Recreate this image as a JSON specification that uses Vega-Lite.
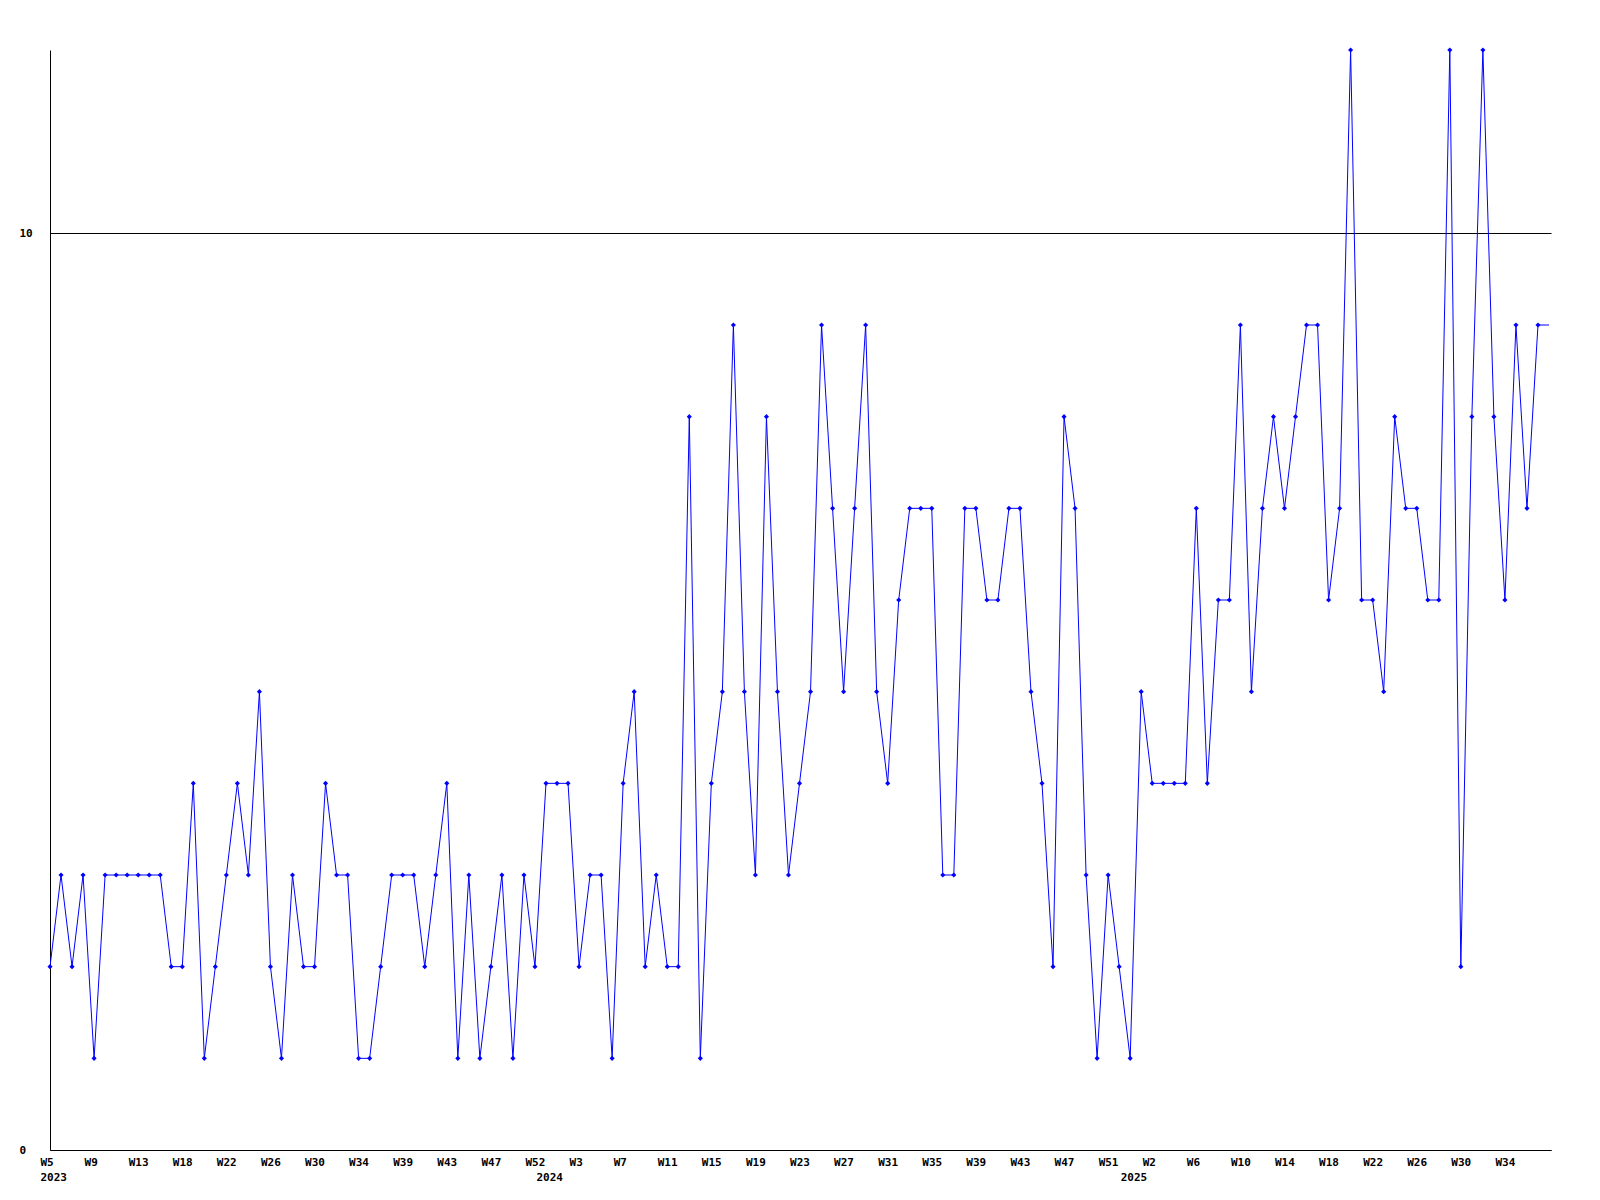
{
  "$schema": "https://vega.github.io/schema/vega-lite/v6.json",
  "width": 1501,
  "height": 1100,
  "autosize": {"type": "none"},
  "padding": {"left": 50, "top": 50, "right": 49, "bottom": 50},
  "background": "white",
  "config": {
    "view": {"stroke": null},
    "axis": {
      "labelFont": "DejaVu Sans Mono",
      "labelFontWeight": "bold",
      "labelFontSize": 11,
      "labelColor": "black",
      "domainColor": "black",
      "domainWidth": 1,
      "ticks": false,
      "tickSize": 0,
      "title": null
    }
  },
  "data": {
    "values": [
      {"i":0,"v":2},{"i":1,"v":3},{"i":2,"v":2},{"i":3,"v":3},{"i":4,"v":1},{"i":5,"v":3},{"i":6,"v":3},{"i":7,"v":3},{"i":8,"v":3},{"i":9,"v":3},
      {"i":10,"v":3},{"i":11,"v":2},{"i":12,"v":2},{"i":13,"v":4},{"i":14,"v":1},{"i":15,"v":2},{"i":16,"v":3},{"i":17,"v":4},{"i":18,"v":3},{"i":19,"v":5},
      {"i":20,"v":2},{"i":21,"v":1},{"i":22,"v":3},{"i":23,"v":2},{"i":24,"v":2},{"i":25,"v":4},{"i":26,"v":3},{"i":27,"v":3},{"i":28,"v":1},{"i":29,"v":1},
      {"i":30,"v":2},{"i":31,"v":3},{"i":32,"v":3},{"i":33,"v":3},{"i":34,"v":2},{"i":35,"v":3},{"i":36,"v":4},{"i":37,"v":1},{"i":38,"v":3},{"i":39,"v":1},
      {"i":40,"v":2},{"i":41,"v":3},{"i":42,"v":1},{"i":43,"v":3},{"i":44,"v":2},{"i":45,"v":4},{"i":46,"v":4},{"i":47,"v":4},{"i":48,"v":2},{"i":49,"v":3},
      {"i":50,"v":3},{"i":51,"v":1},{"i":52,"v":4},{"i":53,"v":5},{"i":54,"v":2},{"i":55,"v":3},{"i":56,"v":2},{"i":57,"v":2},{"i":58,"v":8},{"i":59,"v":1},
      {"i":60,"v":4},{"i":61,"v":5},{"i":62,"v":9},{"i":63,"v":5},{"i":64,"v":3},{"i":65,"v":8},{"i":66,"v":5},{"i":67,"v":3},{"i":68,"v":4},{"i":69,"v":5},
      {"i":70,"v":9},{"i":71,"v":7},{"i":72,"v":5},{"i":73,"v":7},{"i":74,"v":9},{"i":75,"v":5},{"i":76,"v":4},{"i":77,"v":6},{"i":78,"v":7},{"i":79,"v":7},
      {"i":80,"v":7},{"i":81,"v":3},{"i":82,"v":3},{"i":83,"v":7},{"i":84,"v":7},{"i":85,"v":6},{"i":86,"v":6},{"i":87,"v":7},{"i":88,"v":7},{"i":89,"v":5},
      {"i":90,"v":4},{"i":91,"v":2},{"i":92,"v":8},{"i":93,"v":7},{"i":94,"v":3},{"i":95,"v":1},{"i":96,"v":3},{"i":97,"v":2},{"i":98,"v":1},{"i":99,"v":5},
      {"i":100,"v":4},{"i":101,"v":4},{"i":102,"v":4},{"i":103,"v":4},{"i":104,"v":7},{"i":105,"v":4},{"i":106,"v":6},{"i":107,"v":6},{"i":108,"v":9},{"i":109,"v":5},
      {"i":110,"v":7},{"i":111,"v":8},{"i":112,"v":7},{"i":113,"v":8},{"i":114,"v":9},{"i":115,"v":9},{"i":116,"v":6},{"i":117,"v":7},{"i":118,"v":12},{"i":119,"v":6},
      {"i":120,"v":6},{"i":121,"v":5},{"i":122,"v":8},{"i":123,"v":7},{"i":124,"v":7},{"i":125,"v":6},{"i":126,"v":6},{"i":127,"v":12},{"i":128,"v":2},{"i":129,"v":8},
      {"i":130,"v":12},{"i":131,"v":8},{"i":132,"v":6},{"i":133,"v":9},{"i":134,"v":7},{"i":135,"v":9},{"i":136,"v":9}
    ]
  },
  "encoding": {
    "x": {
      "field": "i",
      "type": "quantitative",
      "scale": {"domain": [0, 136.18], "nice": false, "zero": false},
      "axis": {
        "grid": false,
        "values": [0,4,8,12,16,20,24,28,32,36,40,44,45,48,52,56,60,64,68,72,76,80,84,88,92,96,98,100,104,108,112,116,120,124,128,132],
        "labelExpr": "datum.value == 45 ? ['', '2024'] : datum.value == 98 ? ['', '2025'] : datum.value == 0 ? ['W5', '2023'] : ['W5','W9','W13','W18','W22','W26','W30','W34','W39','W43','W47','W52','W3','W7','W11','W15','W19','W23','W27','W31','W35','W39','W43','W47','W51','W2','W6','W10','W14','W18','W22','W26','W30','W34'][datum.value / 4]",
        "labelAlign": "left",
        "labelBaseline": "top",
        "labelOffset": -10,
        "labelPadding": 6,
        "labelLineHeight": 15,
        "labelOverlap": false,
        "labelFlush": false,
        "labelBound": false
      }
    },
    "y": {
      "field": "v",
      "type": "quantitative",
      "scale": {"domain": [0, 12], "nice": false},
      "axis": {
        "values": [0, 10],
        "grid": true,
        "gridColor": "black",
        "gridOpacity": 1,
        "gridWidth": 1,
        "labelAlign": "left",
        "labelBaseline": "middle",
        "labelPadding": 31
      }
    }
  },
  "layer": [
    {
      "mark": {"type": "line", "color": "#0000ff", "strokeWidth": 1, "clip": true}
    },
    {
      "transform": [{"filter": "datum.i < 136"}],
      "mark": {"type": "point", "shape": "diamond", "filled": true, "color": "#0000ff", "size": 26, "opacity": 1}
    }
  ]
}
